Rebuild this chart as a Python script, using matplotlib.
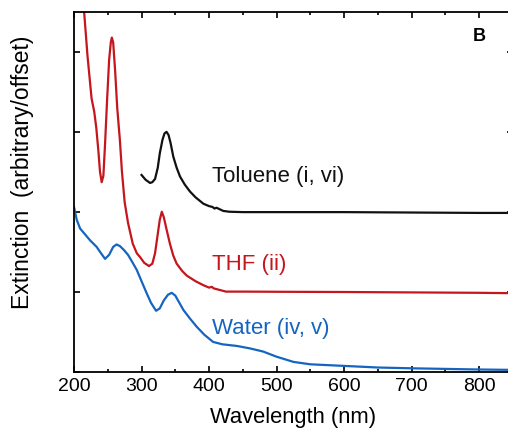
import matplotlib.pyplot as plt
from matplotlib.ticker import MultipleLocator, NullFormatter

plt.rcParams['font.family'] = ['Liberation Sans', 'DejaVu Sans']

# Toluene (i, vi), offset +2
tol_x = [300, 306, 312.6, 316, 320, 324, 327, 331, 334, 337, 340, 343, 347, 352, 357,
         364, 372, 380, 391.6, 400, 405, 408, 411, 416, 421, 430, 450, 500, 600, 700, 800, 850]
tol_y = [2.46, 2.40, 2.36, 2.37, 2.41, 2.55, 2.73, 2.90, 2.98, 3.00, 2.96, 2.86, 2.69, 2.55, 2.44,
         2.34, 2.25, 2.18, 2.10, 2.07, 2.06, 2.04, 2.05, 2.03, 2.01, 2.0, 1.995, 1.995, 1.995, 1.99, 1.985, 1.985]

# THF (ii), offset +1
thf_x = [212, 215, 220, 226, 230, 233, 236, 238.5, 241, 243.5, 246, 249, 252, 254.5, 256, 258, 261,
         264, 268, 271, 275, 280, 287, 293, 298, 304, 311, 316, 320, 324, 327, 330, 333, 337, 342, 347,
         352, 360, 367, 380, 391.6, 400, 404, 407, 416, 425, 450, 500, 600, 700, 800, 850]
thf_y = [4.75, 4.5, 3.95, 3.42, 3.25, 3.05, 2.77, 2.50, 2.37, 2.45, 2.85, 3.40, 3.90, 4.12, 4.18, 4.12, 3.75,
         3.30, 2.89, 2.50, 2.12, 1.86, 1.60, 1.48, 1.43, 1.36, 1.32, 1.35, 1.48, 1.72, 1.90, 2.0, 1.93, 1.78,
         1.6, 1.45, 1.35, 1.26, 1.20, 1.13, 1.08, 1.05, 1.06, 1.04, 1.02, 1.0, 1.0, 0.998, 0.995, 0.99, 0.985, 0.98]

# Water (iv, v), no offset
wat_x = [200, 204, 209, 216, 224, 233.5, 240, 246, 252, 258, 263, 268, 274, 280, 287, 293, 300,
         307.6, 314, 321.5, 327, 333, 339, 344.7, 350, 356, 362, 372, 381.7, 393, 406, 420, 441,
         460, 480, 500, 525, 550, 600, 650, 700, 800, 850]
wat_y = [2.06, 1.90, 1.79, 1.72, 1.64, 1.56, 1.48, 1.41, 1.46, 1.56, 1.59, 1.57, 1.52, 1.46, 1.36, 1.27, 1.13,
         0.98, 0.86, 0.76, 0.79, 0.89, 0.96, 0.985, 0.95, 0.86, 0.77, 0.66, 0.56, 0.46, 0.37, 0.34, 0.32,
         0.29, 0.25, 0.185, 0.12, 0.09, 0.07, 0.05, 0.04, 0.025, 0.02]

labels = ['Toluene (i, vi)', 'THF (ii)', 'Water (iv, v)']
label_x = [405, 405, 405]
label_y = [2.44, 1.34, 0.54]
colors = ['#111111', '#c4161c', '#1565c0']

fig = plt.figure(figsize=(5.08, 4.32), dpi=100)
ax = fig.add_axes([74 / 508, 60.5 / 432, 439 / 508, 359.5 / 432])

for xs, ys, c in zip([tol_x, thf_x, wat_x], [tol_y, thf_y, wat_y], colors):
    ax.plot(xs, ys, color=c, lw=1.6, solid_joinstyle='round')

for t, x, y, c in zip(labels, label_x, label_y, colors):
    ax.text(x, y, t, color=c, fontsize=16, va='center', ha='left')

ax.text(800, 4.19, 'B', fontsize=13, fontweight='bold', ha='center', va='center')

ax.set_xlim(200, 850)
ax.set_ylim(0, 4.5)
ax.xaxis.set_major_locator(MultipleLocator(100))
ax.xaxis.set_minor_locator(MultipleLocator(50))
ax.yaxis.set_major_locator(MultipleLocator(1))
ax.yaxis.set_major_formatter(NullFormatter())
ax.tick_params(which='both', direction='in', top=True, right=True, width=1.2)
ax.tick_params(which='major', length=4, labelsize=14, pad=5)
ax.tick_params(which='minor', length=2.5)
ax.set_xticks([200, 300, 400, 500, 600, 700, 800])
for s in ax.spines.values():
    s.set_linewidth(1.3)

ax.set_xlabel('Wavelength (nm)', fontsize=15.8, labelpad=8)
ax.set_ylabel('Extinction  (arbitrary/offset)', fontsize=16.5)
ax.yaxis.set_label_coords(-0.091, 0.553)

fig.savefig('out.png', dpi=100)
